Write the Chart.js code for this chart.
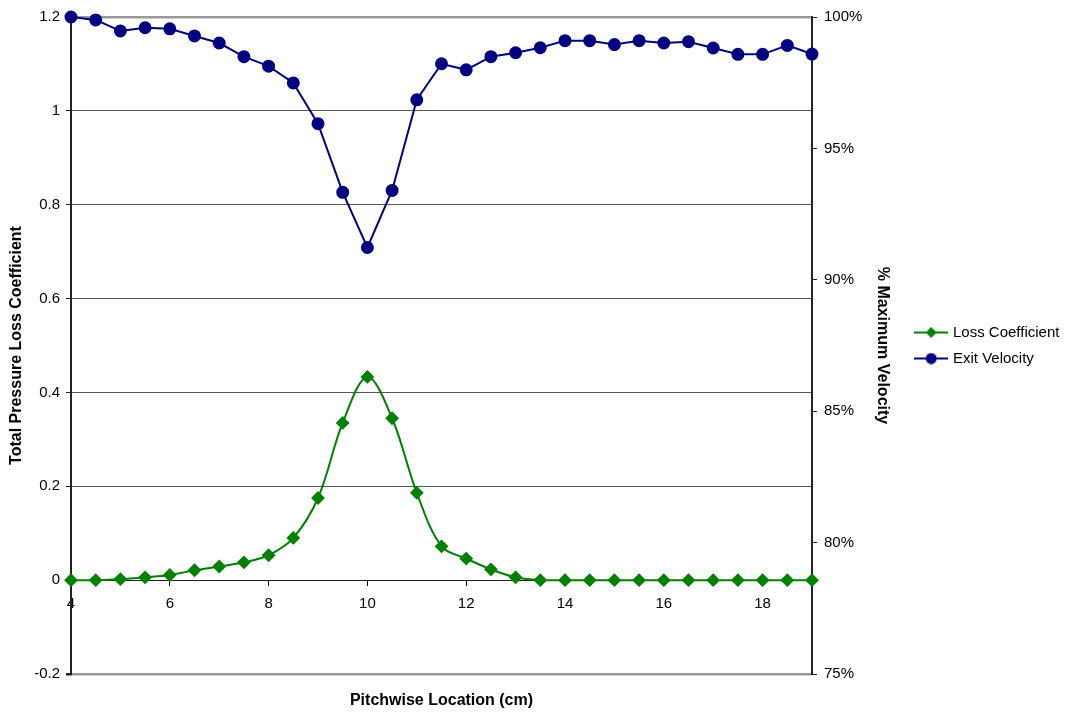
<!DOCTYPE html>
<html>
<head>
<meta charset="utf-8">
<script src="https://cdn.jsdelivr.net/npm/chart.js@4/dist/chart.umd.min.js"></script>
<style>
  html, body { margin: 0; padding: 0; background: #fff; }
  #wrap { width: 1069px; height: 719px; }
</style>
</head>
<body>
<div id="wrap"><canvas id="c" width="1069" height="719"></canvas></div>
<script>
const locations = [4, 4.5, 5, 5.5, 6, 6.5, 7, 7.5, 8, 8.5, 9, 9.5, 10, 10.5, 11, 11.5, 12, 12.5, 13, 13.5, 14, 14.5, 15, 15.5, 16, 16.5, 17, 17.5, 18, 18.5, 19];
const lossCoefficient = [0, 0, 0.002, 0.006, 0.011, 0.021, 0.029, 0.038, 0.053, 0.090, 0.175, 0.335, 0.433, 0.345, 0.186, 0.072, 0.046, 0.023, 0.006, 0, 0, 0, 0, 0, 0, 0, 0, 0, 0, 0, 0];
const exitVelocity = [100, 99.89, 99.47, 99.59, 99.55, 99.28, 99.01, 98.49, 98.13, 97.49, 95.94, 93.33, 91.23, 93.40, 96.85, 98.22, 97.99, 98.49, 98.64, 98.83, 99.10, 99.10, 98.95, 99.10, 99.01, 99.06, 98.82, 98.58, 98.58, 98.92, 98.59];
const xTickValues = [4, 6, 8, 10, 12, 14, 16, 18];
const leftTickValues = [-0.2, 0, 0.2, 0.4, 0.6, 0.8, 1, 1.2];
const rightTickValues = [75, 80, 85, 90, 95, 100];

const FONT = 'Arial, "Liberation Sans", sans-serif';
const GREEN = '#008000';
const NAVY = '#000080';

function legendIcon(color, style) {
  const cv = document.createElement('canvas');
  cv.width = 34; cv.height = 12;
  const g = cv.getContext('2d');
  g.strokeStyle = color; g.lineWidth = 2;
  g.beginPath(); g.moveTo(0, 6); g.lineTo(34, 6); g.stroke();
  g.fillStyle = color;
  g.beginPath();
  if (style === 'diamond') {
    g.moveTo(17, 0.5); g.lineTo(22.5, 6); g.lineTo(17, 11.5); g.lineTo(11.5, 6); g.closePath();
  } else {
    g.arc(17, 6, 5.5, 0, Math.PI * 2);
  }
  g.fill();
  return cv;
}
const icons = [legendIcon(GREEN, 'diamond'), legendIcon(NAVY, 'circle')];

const toXY = (vals) => locations.map((x, i) => ({ x: x, y: vals[i] }));
const isEdge = (v) => Math.abs(v - 1.2) < 1e-6 || Math.abs(v + 0.2) < 1e-6;

new Chart(document.getElementById('c'), {
  type: 'line',
  data: {
    datasets: [
      {
        label: 'Loss Coefficient',
        data: toXY(lossCoefficient),
        yAxisID: 'y',
        borderColor: GREEN,
        backgroundColor: GREEN,
        borderWidth: 2,
        pointStyle: 'rectRot',
        pointRadius: 5.5,
        pointHoverRadius: 5.5,
        tension: 0.35,
        clip: false
      },
      {
        label: 'Exit Velocity',
        data: toXY(exitVelocity),
        yAxisID: 'y2',
        borderColor: NAVY,
        backgroundColor: NAVY,
        borderWidth: 2,
        pointStyle: 'circle',
        pointRadius: 5.5,
        pointHoverRadius: 5.5,
        tension: 0,
        clip: false
      }
    ]
  },
  options: {
    responsive: false,
    animation: false,
    events: [],
    layout: { padding: { top: 17, right: 0, left: 0, bottom: 0 } },
    scales: {
      x: {
        type: 'linear',
        min: 4, max: 19,
        position: { y: 0 },
        afterBuildTicks: (s) => { s.ticks = xTickValues.map(v => ({ value: v })); },
        ticks: { font: { family: FONT, size: 15 }, color: '#000', padding: 10, maxRotation: 0 },
        grid: { drawOnChartArea: false, drawTicks: true, tickLength: 5, color: '#000' },
        border: { display: true, color: '#222', width: 1 }
      },
      x2: {
        type: 'linear',
        min: 4, max: 19,
        position: 'bottom',
        ticks: { display: false },
        grid: { display: false, drawTicks: false },
        border: { display: false },
        title: { display: true, text: 'Pitchwise Location (cm)', font: { family: FONT, size: 16, weight: 'bold' }, color: '#000', padding: { top: 0, bottom: 9 } },
        afterFit: (s) => { s.height = 45; }
      },
      y: {
        type: 'linear',
        position: 'left',
        min: -0.2, max: 1.2,
        afterBuildTicks: (s) => { s.ticks = leftTickValues.map(v => ({ value: v })); },
        ticks: { font: { family: FONT, size: 15 }, color: '#000', padding: 6, callback: (v) => String(Math.round(v * 10) / 10) },
        grid: {
          color: (ctx) => (ctx.tick && isEdge(ctx.tick.value)) ? '#999' : '#555',
          lineWidth: (ctx) => (ctx.tick && isEdge(ctx.tick.value)) ? 2.5 : 1,
          tickColor: '#222',
          tickLength: 5
        },
        border: { display: true, color: '#222', width: 2 },
        title: { display: true, text: 'Total Pressure Loss Coefficient', font: { family: FONT, size: 16, weight: 'bold' }, color: '#000', padding: { top: 7, bottom: 0 } },
        afterFit: (s) => { s.width = 71; }
      },
      y2: {
        type: 'linear',
        position: 'right',
        min: 75, max: 100,
        afterBuildTicks: (s) => { s.ticks = rightTickValues.map(v => ({ value: v })); },
        ticks: { font: { family: FONT, size: 15 }, color: '#000', padding: 7, callback: (v) => v + '%' },
        grid: { drawOnChartArea: false, drawTicks: true, tickLength: 5, tickColor: '#222' },
        border: { display: true, color: '#222', width: 2 },
        title: { display: true, text: '% Maximum Velocity', font: { family: FONT, size: 16, weight: 'bold' }, color: '#000', padding: { top: 14, bottom: 0 } },
        afterFit: (s) => { s.width = 94; }
      }
    },
    plugins: {
      legend: {
        display: true,
        position: 'right',
        fullSize: false,
        align: 'center',
        maxWidth: 163,
        labels: {
          usePointStyle: true,
          pointStyleWidth: 28.5,
          padding: 11,
          color: '#000',
          font: { family: FONT, size: 15 },
          generateLabels: (chart) => chart.data.datasets.map((ds, i) => ({
            text: ds.label,
            pointStyle: icons[i],
            fillStyle: ds.borderColor,
            strokeStyle: ds.borderColor,
            lineWidth: 0,
            hidden: false,
            datasetIndex: i,
            fontColor: '#000'
          }))
        }
      },
      tooltip: { enabled: false }
    }
  }
});
</script>
</body>
</html>
